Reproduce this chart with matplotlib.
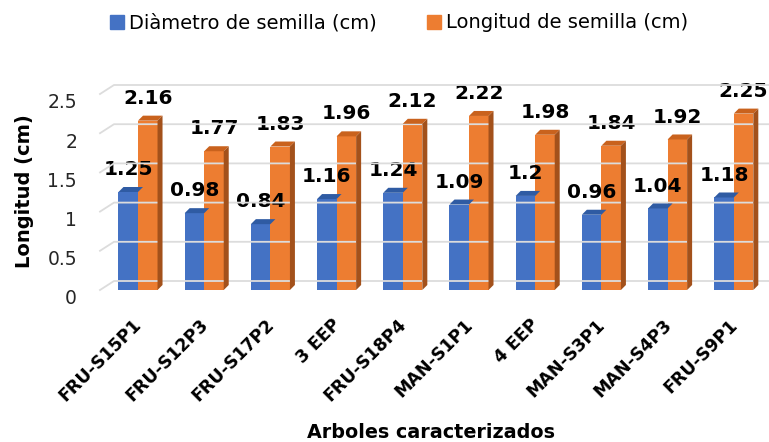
import matplotlib
matplotlib.use("Agg")
import matplotlib.pyplot as plt
from matplotlib.patches import Polygon, Patch
from matplotlib.lines import Line2D
from matplotlib.transforms import IdentityTransform, Affine2D
import numpy as np

# ---- data ----
categories = ["FRU-S15P1", "FRU-S12P3", "FRU-S17P2", "3 EEP", "FRU-S18P4",
              "MAN-S1P1", "4 EEP", "MAN-S3P1", "MAN-S4P3", "FRU-S9P1"]
diametro = [1.25, 0.98, 0.84, 1.16, 1.24, 1.09, 1.2, 0.96, 1.04, 1.18]
longitud = [2.16, 1.77, 1.83, 1.96, 2.12, 2.22, 1.98, 1.84, 1.92, 2.25]
series_names = ["Diàmetro de semilla (cm)", "Longitud de semilla (cm)"]
y_ticks = [0, 0.5, 1, 1.5, 2, 2.5]
y_tick_labels = ["0", "0.5", "1", "1.5", "2", "2.5"]

# ---- style ----
BLUE, BLUE_TOP = "#4472C4", "#2F5BA3"
ORANGE, ORANGE_TOP, ORANGE_SIDE = "#ED7D31", "#C9621D", "#A3511B"
GRID = "#DCDCDC"
FONT = "DejaVu Sans"
plt.rcParams["font.family"] = [FONT]

W, H, DPI = 769, 442, 100
fig = plt.figure(figsize=(W / DPI, H / DPI), dpi=DPI)
fig.patch.set_facecolor("white")

# front plane of the 3-D box, in pixels
left_px, right_px, bottom_px, top_px = 100, 769, 152, 348
ax = fig.add_axes([left_px / W, bottom_px / H,
                   (right_px - left_px) / W, (top_px - bottom_px) / H])
ax.set_facecolor("none")
for s in ax.spines.values():
    s.set_visible(False)

x = np.arange(len(categories))
ax.set_xlim(-0.574, 9.532)
ax.set_ylim(0, 2.5)

bw = 0.295
bars_d = ax.bar(x - bw / 2, diametro, bw, color=BLUE, zorder=3, linewidth=0)
bars_l = ax.bar(x + bw / 2, longitud, bw, color=ORANGE, zorder=4, linewidth=0)

ident = IdentityTransform()
to_px = ax.transData.transform

# depth of the bars and of the back wall (pixels)
bdx, bdy = 5, 5
gdx, gdy = 14, 9

# back-wall gridlines with the slanted left wall segment
for v in y_ticks:
    fx, fy = to_px((ax.get_xlim()[0], v))
    line = Line2D([fx, fx + gdx, W], [fy, fy + gdy, fy + gdy],
                  transform=ident, color=GRID, lw=1.3, zorder=1)
    fig.add_artist(line)


def add_3d_faces(bars, top_color, side_color, z):
    for r in bars:
        x0, x1 = r.get_x(), r.get_x() + r.get_width()
        h = r.get_height()
        (px0, py0), (px1, py1) = to_px((x0, 0)), to_px((x1, h))
        top = Polygon([(px0, py1), (px1, py1), (px1 + bdx, py1 + bdy),
                       (px0 + bdx, py1 + bdy)], closed=True,
                      transform=ident, facecolor=top_color, lw=0, zorder=z)
        fig.add_artist(top)
        if side_color is not None:
            side = Polygon([(px1, py0), (px1 + bdx, py0 + bdy),
                            (px1 + bdx, py1 + bdy), (px1, py1)], closed=True,
                           transform=ident, facecolor=side_color, lw=0, zorder=z)
            fig.add_artist(side)


add_3d_faces(bars_d, BLUE_TOP, None, 2.5)
add_3d_faces(bars_l, ORANGE_TOP, ORANGE_SIDE, 4.5)

# value labels
for bars, vals in ((bars_d, diametro), (bars_l, longitud)):
    for r, v in zip(bars, vals):
        ax.annotate(f"{v:g}", (r.get_x() + r.get_width() / 2, v),
                    xytext=(0, 12.2), textcoords="offset points",
                    ha="center", va="baseline", fontsize=14.5,
                    fontweight="bold", color="black", zorder=6,
                    annotation_clip=False)

# axes ticks
ax.set_yticks(y_ticks, y_tick_labels)
ax.tick_params(axis="y", length=0, pad=16.5, labelsize=13.5, labelcolor="#262626")
for lbl in ax.get_yticklabels():
    lbl.set_transform(lbl.get_transform() + Affine2D().translate(0, -7))

ax.set_xticks(x, categories)
ax.tick_params(axis="x", length=0, pad=23, labelsize=12.5)
for lbl in ax.get_xticklabels():
    lbl.set_rotation(45)
    lbl.set_ha("right")
    lbl.set_va("center")
    lbl.set_rotation_mode("anchor")
    lbl.set_fontweight("bold")
    lbl.set_transform(lbl.get_transform() + Affine2D().translate(1, 0))

# axis titles
fig.text(25 / W, 1 - 191 / H, "Longitud (cm)", rotation=90, ha="center",
         va="center", fontsize=14, fontweight="bold")
fig.text(431 / W, 1 - 432 / H, "Arboles caracterizados", ha="center",
         va="center", fontsize=13.8, fontweight="bold")

# legend
handles = [Patch(color=BLUE), Patch(color=ORANGE)]
fig.legend(handles, series_names, loc="center", bbox_to_anchor=(399 / W, 1 - 23 / H),
           ncol=2, frameon=False, fontsize=14, handlelength=0.7, handleheight=0.7,
           handletextpad=0.25, columnspacing=2.6, borderaxespad=0)

fig.savefig("out.png", dpi=DPI)
